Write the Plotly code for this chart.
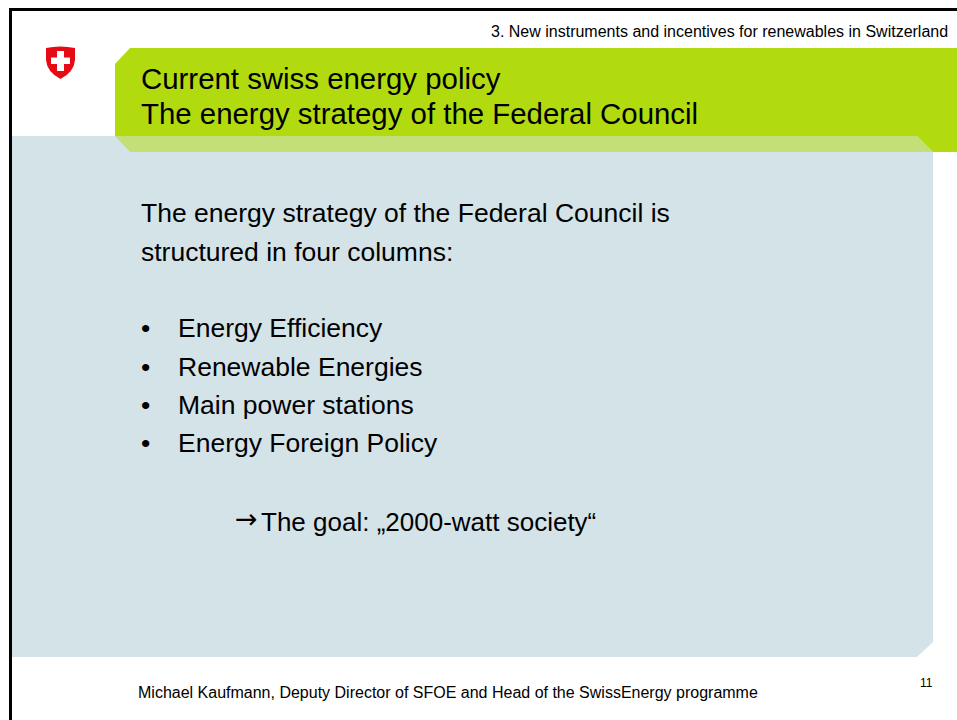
import plotly.graph_objects as go

header_text = "3. New instruments and incentives for renewables in Switzerland"
title_lines = ["Current swiss energy policy", "The energy strategy of the Federal Council"]
intro_lines = ["The energy strategy of the Federal Council is", "structured in four columns:"]
bullets = ["Energy Efficiency", "Renewable Energies", "Main power stations", "Energy Foreign Policy"]
goal_arrow = "→"
goal_text = "The goal: „2000-watt society“"
footer_text = "Michael Kaufmann, Deputy Director of SFOE and Head of the SwissEnergy programme"
page_number = "11"

FONT = "Liberation Sans, Arial, sans-serif"
BLUE = "#D4E3E8"
GREEN = "#B2DB0F"
LIGHT_GREEN = "#C3DF78"
RED = "#E60A14"


def poly(points, color, layer="below"):
    path = "M " + " L ".join(f"{x},{y}" for x, y in points) + " Z"
    return dict(type="path", path=path, fillcolor=color, line=dict(width=0), layer=layer,
                xref="x", yref="y")


def label(x, y, text, size, color="#000000", family=FONT):
    return dict(x=x, y=y, text=text, showarrow=False, xanchor="left", yanchor="middle",
                font=dict(family=family, size=size, color=color), xref="x", yref="y", align="left")


shapes = [
    poly([(12, 136), (933, 136), (933, 642), (917, 657), (12, 657)], BLUE),
    poly([(115, 64), (130, 48), (957, 48), (957, 152), (933, 152), (917, 136), (115, 136)], GREEN),
    poly([(115, 136), (917, 136), (933, 152), (130, 152)], LIGHT_GREEN),
    poly([(9, 8), (957, 8), (957, 11), (12, 11), (12, 720), (9, 720)], "#000000"),
    dict(type="path",
         path="M 46,48 Q 60,45 75,48 L 75,60 Q 74,72 60.5,79 Q 47,72 46,60 Z",
         fillcolor=RED, line=dict(width=0), xref="x", yref="y", layer="below"),
    poly([(57, 51), (64, 51), (64, 57.5), (70, 57.5), (70, 64), (64, 64), (64, 71),
          (57, 71), (57, 64), (51, 64), (51, 57.5), (57, 57.5)], "#FFFFFF", layer="above"),
]

annotations = [
    label(489, 31, header_text, 16),
    label(139, 78, title_lines[0], 29.4),
    label(139, 113, title_lines[1], 29.4),
    label(139, 213, intro_lines[0], 26.5),
    label(139, 252, intro_lines[1], 26.5),
    label(233, 518, goal_arrow, 27, family="DejaVu Sans"),
    label(259, 522, goal_text, 26),
    label(136, 692, footer_text, 16),
    label(918, 683, page_number, 12),
]
for y, bullet in zip([328, 367, 405, 443], bullets):
    annotations.append(label(139, y, "•", 26.5))
    annotations.append(label(176, y, bullet, 26.5))

fig = go.Figure()
fig.update_layout(
    width=957, height=720, margin=dict(l=0, r=0, t=0, b=0),
    paper_bgcolor="#FFFFFF", plot_bgcolor="#FFFFFF", showlegend=False,
    xaxis=dict(range=[0, 957], visible=False, fixedrange=True),
    yaxis=dict(range=[720, 0], visible=False, fixedrange=True),
    shapes=shapes, annotations=annotations,
)
fig.write_html("out.html", config={"displayModeBar": False},
               post_script="document.body.style.margin='0';document.body.style.overflow='hidden';")
